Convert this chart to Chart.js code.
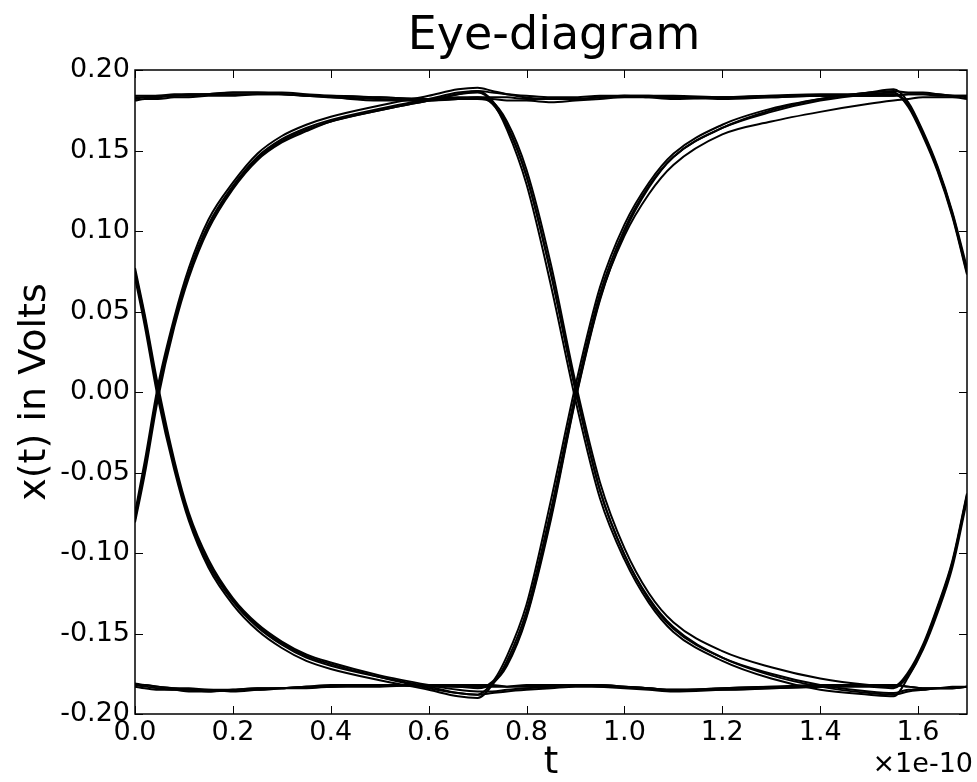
<!DOCTYPE html>
<html>
<head>
<meta charset="utf-8">
<title>Eye-diagram</title>
<script src="https://cdn.jsdelivr.net/npm/chart.js"></script>
<style>
  html, body { margin: 0; padding: 0; background: #fff; }
  canvas { display: block; }
</style>
</head>
<body>
<canvas id="eye" width="977" height="782"></canvas>
<script>
// sample times, in units of 1e-10 s
const timeAxis = [0, 0.02, 0.047, 0.08, 0.11, 0.15, 0.2, 0.25, 0.3, 0.35, 0.4, 0.5, 0.6, 0.66, 0.7,
  0.73, 0.76, 0.8, 0.85, 0.9, 0.95, 1.0, 1.05, 1.1, 1.2, 1.3, 1.4, 1.5, 1.55,
  1.58, 1.61, 1.64, 1.67, 1.7];

const xTicks = [0, 0.2, 0.4, 0.6, 0.8, 1.0, 1.2, 1.4, 1.6];
const yTicks = [-0.2, -0.15, -0.1, -0.05, 0, 0.05, 0.1, 0.15, 0.2];

// one trace per bit pattern: bit before the window, then the three bits seen in it
const trace0000 = [-0.182, -0.183, -0.184, -0.185, -0.185, -0.186, -0.185, -0.185, -0.184, -0.183, -0.182, -0.182, -0.182, -0.183, -0.183,
  -0.183, -0.183, -0.182, -0.182, -0.182, -0.183, -0.184, -0.185, -0.186, -0.185, -0.184, -0.183, -0.182, -0.182,
  -0.183, -0.184, -0.184, -0.184, -0.183];
const trace0001 = [-0.181, -0.182, -0.183, -0.184, -0.184, -0.185, -0.185, -0.184, -0.184, -0.183, -0.183, -0.183, -0.182, -0.182, -0.182,
  -0.182, -0.183, -0.183, -0.183, -0.182, -0.182, -0.183, -0.184, -0.185, -0.184, -0.183, -0.182, -0.182, -0.183,
  -0.175, -0.158, -0.134, -0.106, -0.064];
const trace0010 = [-0.183, -0.184, -0.185, -0.185, -0.186, -0.186, -0.185, -0.184, -0.184, -0.183, -0.183, -0.182, -0.183, -0.183, -0.184,
  -0.181, -0.170, -0.140, -0.079, -0.005, 0.057, 0.099, 0.127, 0.146, 0.164, 0.175, 0.182, 0.186, 0.188,
  0.180, 0.162, 0.140, 0.112, 0.077];
const trace0011 = [-0.182, -0.182, -0.183, -0.184, -0.185, -0.185, -0.186, -0.185, -0.184, -0.184, -0.183, -0.182, -0.182, -0.182, -0.183,
  -0.180, -0.164, -0.132, -0.067, 0.004, 0.065, 0.104, 0.130, 0.148, 0.166, 0.176, 0.182, 0.186, 0.187,
  0.186, 0.186, 0.185, 0.184, 0.183];
const trace0100 = [-0.078, -0.047, 0.000, 0.043, 0.074, 0.104, 0.128, 0.146, 0.157, 0.164, 0.169, 0.176, 0.182, 0.186, 0.187,
  0.181, 0.166, 0.134, 0.073, 0.001, -0.061, -0.101, -0.128, -0.146, -0.165, -0.176, -0.183, -0.187, -0.188,
  -0.186, -0.185, -0.184, -0.184, -0.183];
const trace0101 = [-0.081, -0.051, -0.004, 0.040, 0.071, 0.101, 0.126, 0.144, 0.155, 0.162, 0.168, 0.175, 0.181, 0.185, 0.186,
  0.180, 0.163, 0.129, 0.066, -0.005, -0.066, -0.104, -0.131, -0.149, -0.167, -0.178, -0.185, -0.188, -0.189,
  -0.177, -0.160, -0.137, -0.109, -0.067];
const trace0110 = [-0.075, -0.043, 0.004, 0.046, 0.077, 0.107, 0.130, 0.148, 0.159, 0.166, 0.171, 0.178, 0.184, 0.188, 0.189,
  0.187, 0.185, 0.183, 0.182, 0.182, 0.183, 0.184, 0.184, 0.183, 0.183, 0.184, 0.185, 0.185, 0.185,
  0.178, 0.160, 0.138, 0.110, 0.074];
const trace0111 = [-0.079, -0.048, -0.001, 0.042, 0.073, 0.103, 0.127, 0.145, 0.156, 0.163, 0.168, 0.175, 0.181, 0.185, 0.187,
  0.186, 0.185, 0.184, 0.183, 0.183, 0.184, 0.184, 0.183, 0.182, 0.183, 0.184, 0.184, 0.184, 0.184,
  0.185, 0.185, 0.184, 0.184, 0.184];
const trace1000 = [0.074, 0.045, 0.000, -0.045, -0.078, -0.107, -0.130, -0.146, -0.157, -0.165, -0.170, -0.177, -0.183, -0.187, -0.188,
  -0.187, -0.186, -0.185, -0.184, -0.183, -0.183, -0.183, -0.184, -0.185, -0.185, -0.184, -0.183, -0.182, -0.182,
  -0.183, -0.184, -0.184, -0.183, -0.183];
const trace1001 = [0.077, 0.048, 0.004, -0.042, -0.075, -0.104, -0.128, -0.144, -0.155, -0.163, -0.168, -0.176, -0.182, -0.185, -0.186,
  -0.186, -0.185, -0.184, -0.183, -0.182, -0.182, -0.183, -0.184, -0.185, -0.184, -0.183, -0.183, -0.183, -0.184,
  -0.176, -0.159, -0.135, -0.107, -0.065];
const trace1010 = [0.071, 0.041, -0.004, -0.048, -0.080, -0.109, -0.132, -0.148, -0.159, -0.167, -0.172, -0.179, -0.185, -0.189, -0.190,
  -0.182, -0.167, -0.136, -0.073, -0.001, 0.061, 0.101, 0.128, 0.146, 0.164, 0.174, 0.181, 0.185, 0.186,
  0.177, 0.159, 0.137, 0.109, 0.073];
const trace1011 = [0.075, 0.046, 0.001, -0.044, -0.077, -0.106, -0.129, -0.145, -0.156, -0.164, -0.169, -0.177, -0.184, -0.187, -0.188,
  -0.181, -0.169, -0.139, -0.077, -0.004, 0.058, 0.097, 0.123, 0.141, 0.160, 0.168, 0.174, 0.179, 0.181,
  0.182, 0.183, 0.183, 0.183, 0.182];
const trace1100 = [0.183, 0.183, 0.184, 0.184, 0.185, 0.185, 0.185, 0.185, 0.185, 0.184, 0.183, 0.182, 0.181, 0.182, 0.183,
  0.179, 0.165, 0.134, 0.074, 0.002, -0.061, -0.101, -0.129, -0.147, -0.165, -0.175, -0.182, -0.186, -0.187,
  -0.185, -0.185, -0.184, -0.184, -0.183];
const trace1101 = [0.181, 0.182, 0.182, 0.183, 0.183, 0.184, 0.184, 0.185, 0.185, 0.184, 0.184, 0.183, 0.182, 0.182, 0.182,
  0.180, 0.168, 0.138, 0.079, 0.006, -0.056, -0.097, -0.125, -0.143, -0.161, -0.171, -0.178, -0.182, -0.183,
  -0.174, -0.157, -0.133, -0.105, -0.063];
const trace1110 = [0.182, 0.183, 0.183, 0.184, 0.184, 0.185, 0.186, 0.186, 0.185, 0.184, 0.183, 0.181, 0.181, 0.182, 0.182,
  0.182, 0.181, 0.181, 0.180, 0.181, 0.182, 0.183, 0.183, 0.183, 0.182, 0.183, 0.184, 0.184, 0.185,
  0.179, 0.161, 0.139, 0.111, 0.075];
const trace1111 = [0.184, 0.184, 0.184, 0.185, 0.185, 0.185, 0.186, 0.186, 0.186, 0.185, 0.184, 0.183, 0.182, 0.183, 0.183,
  0.183, 0.183, 0.182, 0.182, 0.182, 0.183, 0.184, 0.184, 0.184, 0.183, 0.183, 0.184, 0.184, 0.184,
  0.185, 0.185, 0.185, 0.184, 0.184];

const traces = [trace0000, trace0001, trace0010, trace0011, trace0100, trace0101, trace0110, trace0111,
  trace1000, trace1001, trace1010, trace1011, trace1100, trace1101, trace1110, trace1111];

const FONT = "'DejaVu Sans', sans-serif";

// frame on all four sides with ticks pointing inward, plus title and the x offset text
const framePlugin = {
  id: "frame",
  afterDatasetsDraw(chart) {
    const { ctx, chartArea: a, scales } = chart;
    const len = 8;
    ctx.save();
    ctx.strokeStyle = "#000";
    ctx.lineWidth = 1;
    ctx.beginPath();
    scales.x.ticks.forEach((t) => {
      const px = Math.round(scales.x.getPixelForValue(t.value)) + 0.5;
      ctx.moveTo(px, a.bottom);
      ctx.lineTo(px, a.bottom - len);
      ctx.moveTo(px, a.top);
      ctx.lineTo(px, a.top + len);
    });
    scales.y.ticks.forEach((t) => {
      const py = Math.round(scales.y.getPixelForValue(t.value)) + 0.5;
      ctx.moveTo(a.left, py);
      ctx.lineTo(a.left + len, py);
      ctx.moveTo(a.right, py);
      ctx.lineTo(a.right - len, py);
    });
    ctx.stroke();
    ctx.lineWidth = 1.5;
    ctx.strokeRect(a.left, a.top, a.right - a.left, a.bottom - a.top);

    ctx.fillStyle = "#000";
    ctx.font = "46px " + FONT;
    ctx.textAlign = "center";
    ctx.textBaseline = "alphabetic";
    ctx.fillText("Eye-diagram", (a.left + a.right) / 2 + 3, 49);
    ctx.font = "27px " + FONT;
    ctx.textAlign = "right";
    ctx.fillText("\u00d71e-10", 973, 772);
    ctx.restore();
  },
};

new Chart(document.getElementById("eye"), {
  type: "line",
  data: {
    datasets: traces.map((tr) => ({
      data: timeAxis.map((t, i) => ({ x: t, y: tr[i] })),
      borderColor: "#000",
      borderWidth: 2,
      pointRadius: 0,
      fill: false,
      cubicInterpolationMode: "monotone",
    })),
  },
  options: {
    responsive: false,
    animation: false,
    devicePixelRatio: 1,
    layout: { padding: { top: 70, right: 10, bottom: 0, left: 0 } },
    plugins: {
      legend: { display: false },
      title: { display: false },
      tooltip: { enabled: false },
    },
    scales: {
      x: {
        type: "linear",
        min: 0,
        max: 1.7,
        afterBuildTicks: (s) => { s.ticks = xTicks.map((v) => ({ value: v })); },
        afterFit: (s) => { s.height = 68; },
        grid: { display: false, drawTicks: false },
        border: { display: false },
        ticks: {
          color: "#000",
          font: { family: FONT, size: 27 },
          padding: 3,
          maxRotation: 0,
          autoSkip: false,
          callback: (v) => Number(v).toFixed(1),
        },
        title: {
          display: true,
          text: "t",
          color: "#000",
          font: { family: FONT, size: 37 },
          padding: { top: 0, bottom: -4 },
        },
      },
      y: {
        type: "linear",
        min: -0.2,
        max: 0.2,
        afterBuildTicks: (s) => { s.ticks = yTicks.map((v) => ({ value: v })); },
        afterFit: (s) => { s.width = 135; },
        grid: { display: false, drawTicks: false },
        border: { display: false },
        ticks: {
          color: "#000",
          font: { family: FONT, size: 27 },
          padding: 5,
          autoSkip: false,
          callback: (v) => Number(v).toFixed(2),
        },
        title: {
          display: true,
          text: "x(t) in Volts",
          color: "#000",
          font: { family: FONT, size: 38 },
          padding: { top: 12, bottom: 0 },
        },
      },
    },
  },
  plugins: [framePlugin],
});
</script>
</body>
</html>
